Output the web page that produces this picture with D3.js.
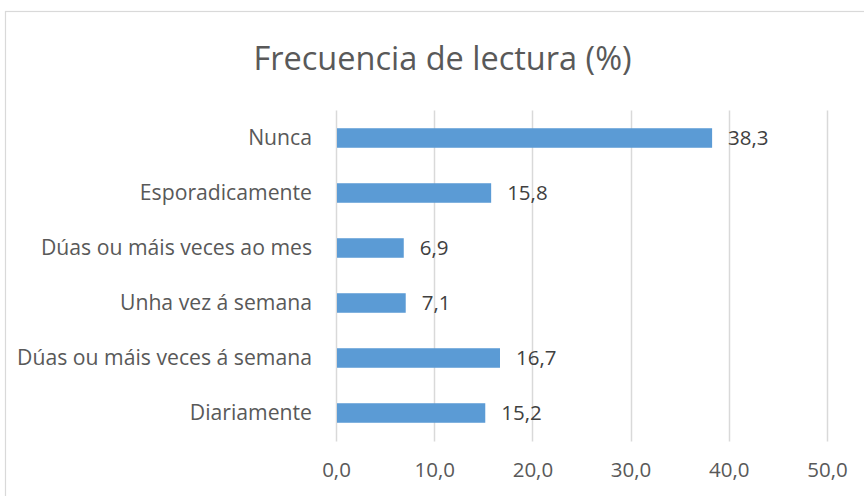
<!DOCTYPE html>
<html>
<head>
<meta charset="utf-8">
<script src="https://cdn.jsdelivr.net/npm/d3@7"></script>
<style>
  html, body { margin: 0; padding: 0; background: #fff; }
  svg { display: block; font-family: "Open Sans", "Noto Sans", sans-serif; }
</style>
</head>
<body>
<svg id="chart" width="864" height="496"></svg>
<script>
// Reading frequency survey, percent of respondents
const categories = [
  "Nunca",
  "Esporadicamente",
  "Dúas ou máis veces ao mes",
  "Unha vez á semana",
  "Dúas ou máis veces á semana",
  "Diariamente"
];
const values = [38.3, 15.8, 6.9, 7.1, 16.7, 15.2];
const tickValues = [0, 10, 20, 30, 40, 50];
const title = "Frecuencia de lectura (%)";

const svg = d3.select("#chart");
const margin = { left: 336, right: 37, top: 110.5, bottom: 55.5 };
const W = 864, H = 496;

const fmt = v => v.toFixed(1).replace(".", ",");

// Chart frame
svg.append("rect")
  .attr("x", 5.5).attr("y", 11.5)
  .attr("width", 900).attr("height", 520)
  .attr("fill", "#fff")
  .attr("stroke", "#d9d9d9")
  .attr("stroke-width", 1.2);

const x = d3.scaleLinear()
  .domain([0, 50])
  .range([margin.left, W - margin.right]);

const y = d3.scaleBand()
  .domain(categories)
  .range([margin.top, H - margin.bottom])
  .paddingInner(0.645)
  .paddingOuter(0.3225);

// Vertical gridlines
svg.append("g")
  .selectAll("line")
  .data(tickValues)
  .join("line")
  .attr("x1", d => Math.round(x(d)) + 0.5)
  .attr("x2", d => Math.round(x(d)) + 0.5)
  .attr("y1", margin.top)
  .attr("y2", H - margin.bottom + 1)
  .attr("stroke", "#d9d9d9")
  .attr("stroke-width", 1.5);

// Bottom axis labels
const xAxis = d3.axisBottom(x)
  .tickValues(tickValues)
  .tickFormat(fmt)
  .tickSize(0)
  .tickPadding(0);

const gx = svg.append("g")
  .attr("transform", `translate(0, ${H - margin.bottom + 36})`)
  .call(xAxis);
gx.select(".domain").remove();
gx.selectAll("text")
  .attr("dy", "0")
  .attr("font-size", 20.5)
  .attr("font-family", "Open Sans, sans-serif")
  .attr("fill", "#595959");

// Category labels
const yAxis = d3.axisLeft(y).tickSize(0).tickPadding(24);
const gy = svg.append("g")
  .attr("transform", `translate(${margin.left}, 0)`)
  .call(yAxis);
gy.select(".domain").remove();
gy.selectAll("text")
  .attr("font-size", 21.2)
  .attr("font-family", "Open Sans, sans-serif")
  .attr("fill", "#595959");

// Bars
svg.append("g")
  .selectAll("rect")
  .data(categories)
  .join("rect")
  .attr("x", x(0) + 1)
  .attr("y", d => y(d))
  .attr("width", (d, i) => x(values[i]) - x(0) - 1)
  .attr("height", y.bandwidth())
  .attr("fill", "#5b9bd5");

// Value labels
svg.append("g")
  .selectAll("text")
  .data(categories)
  .join("text")
  .attr("x", (d, i) => x(values[i]) + 16)
  .attr("y", d => y(d) + y.bandwidth() / 2)
  .attr("dy", "0.35em")
  .attr("font-size", 20.5)
  .attr("fill", "#404040")
  .text((d, i) => fmt(values[i]));

// Title
svg.append("text")
  .attr("x", 442.5)
  .attr("y", 70)
  .attr("text-anchor", "middle")
  .attr("font-size", 32.5)
  .attr("fill", "#595959")
  .text(title);
</script>
</body>
</html>
